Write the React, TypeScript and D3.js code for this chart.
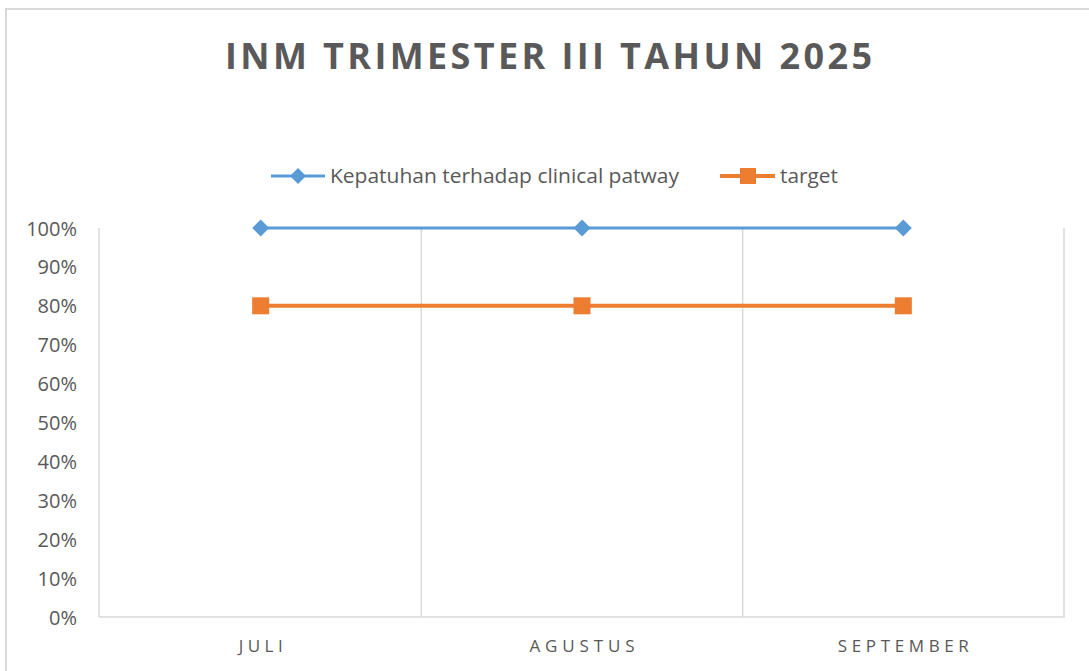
import React from "react";
import * as d3 from "d3";

const categories = ["JULI", "AGUSTUS", "SEPTEMBER"];
const kepatuhan = [1.0, 1.0, 1.0];
const target = [0.8, 0.8, 0.8];
const yTicks = [0, 0.1, 0.2, 0.3, 0.4, 0.5, 0.6, 0.7, 0.8, 0.9, 1.0];
const seriesNames = ["Kepatuhan terhadap clinical patway", "target"];

const W = 1089;
const H = 671;
const FONT = "'Open Sans', 'Noto Sans', sans-serif";
const TXT = "#595959";
const GRID = "#d9d9d9";
const BLUE = "#5B9BD5";
const ORANGE = "#ED7D31";

export default function App() {
  const x = d3.scaleBand<string>().domain(categories).range([100, 1064]);
  const y = d3.scaleLinear().domain([0, 1]).range([617, 228]);
  const cx = (c: string) => (x(c) as number) + x.bandwidth() / 2;
  const line = d3
    .line<number>()
    .x((_, i) => cx(categories[i]))
    .y((d) => y(d));
  const fmt = d3.format(".0%");
  const catWidths = [44, 105, 131];

  return (
    <svg
      width={W}
      height={H}
      style={{ position: "absolute", left: 0, top: 0, background: "#fff" }}
    >
      <rect x={6} y={9} width={1090} height={680} fill="#fff" stroke={GRID} strokeWidth={2} />
      <text
        x={548.5}
        y={69}
        textAnchor="middle"
        fontFamily={FONT}
        fontWeight={700}
        fontSize={36}
        fill={TXT}
        textLength={647}
        lengthAdjust="spacing"
      >
        INM TRIMESTER III TAHUN 2025
      </text>

      {/* legend */}
      <g>
        <line x1={271} x2={325} y1={176} y2={176} stroke={BLUE} strokeWidth={3} />
        <path d="M0,-8L8,0L0,8L-8,0Z" transform="translate(298,176)" fill={BLUE} />
        <text x={330} y={183} fontFamily={FONT} fontSize={20} fill={TXT} textLength={349} lengthAdjust="spacingAndGlyphs">
          {seriesNames[0]}
        </text>
        <line x1={720} x2={775} y1={176} y2={176} stroke={ORANGE} strokeWidth={4} />
        <rect x={740} y={168} width={16} height={16} fill={ORANGE} />
        <text x={780} y={183} fontFamily={FONT} fontSize={20} fill={TXT} textLength={58} lengthAdjust="spacingAndGlyphs">
          {seriesNames[1]}
        </text>
      </g>

      {/* gridlines */}
      {categories.map((c) => (
        <line
          key={c}
          x1={(x(c) as number) + x.bandwidth()}
          x2={(x(c) as number) + x.bandwidth()}
          y1={228}
          y2={617}
          stroke={GRID}
          strokeWidth={1.5}
        />
      ))}
      <line x1={99} x2={99} y1={228} y2={617} stroke={GRID} strokeWidth={1.5} />
      <line x1={99} x2={1065} y1={617} y2={617} stroke={GRID} strokeWidth={1.5} />

      {/* y labels */}
      {yTicks.map((t) => (
        <text
          key={t}
          x={77}
          y={y(t) + 7.5}
          textAnchor="end"
          fontFamily={FONT}
          fontSize={20}
          fill={TXT}
        >
          {fmt(t)}
        </text>
      ))}

      {/* x labels */}
      {categories.map((c, i) => (
        <text
          key={c}
          x={cx(c)}
          y={652}
          textAnchor="middle"
          fontFamily={FONT}
          fontSize={17}
          fill={TXT}
          textLength={catWidths[i]}
          lengthAdjust="spacing"
        >
          {c}
        </text>
      ))}

      {/* series */}
      <path d={line(kepatuhan) as string} fill="none" stroke={BLUE} strokeWidth={3} />
      <path d={line(target) as string} fill="none" stroke={ORANGE} strokeWidth={4} />
      {kepatuhan.map((v, i) => (
        <path
          key={"k" + i}
          d="M0,-8.5L8.5,0L0,8.5L-8.5,0Z"
          transform={`translate(${cx(categories[i])},${y(v)})`}
          fill={BLUE}
        />
      ))}
      {target.map((v, i) => (
        <rect
          key={"t" + i}
          x={cx(categories[i]) - 8.5}
          y={y(v) - 8.5}
          width={17}
          height={17}
          fill={ORANGE}
        />
      ))}
    </svg>
  );
}
